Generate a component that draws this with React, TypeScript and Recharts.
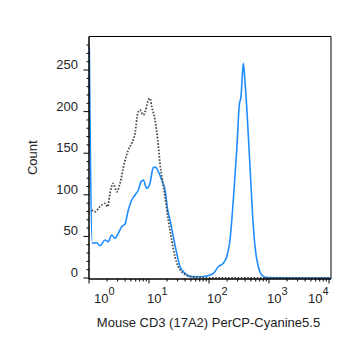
import React from 'react';
import { LineChart, Line, XAxis, YAxis, ReferenceLine, Label } from 'recharts';

// log10 of fluorescence intensity (decades) and event counts
const blueLogIntensity = [0.005, 0.055, 0.128, 0.183, 0.267, 0.322, 0.378, 0.433, 0.488, 0.545, 0.6, 0.655, 0.712, 0.767, 0.822, 0.867, 0.905, 0.962, 1.017, 1.072, 1.112, 1.155, 1.212, 1.267, 1.312, 1.35, 1.405, 1.462, 1.517, 1.6, 1.712, 1.85, 1.962, 2.072, 2.155, 2.238, 2.295, 2.35, 2.405, 2.462, 2.505, 2.533, 2.572, 2.6, 2.638, 2.683, 2.728, 2.767, 2.822, 2.878, 2.962, 3.517, 4.033];
const blueCounts = [278, 41.7, 42.4, 38.8, 45.7, 43.6, 51.7, 47.7, 53.7, 61.7, 64.9, 81.7, 93.8, 99.8, 105.8, 115.7, 117.8, 107.8, 113.8, 133, 133, 127.8, 117.8, 105.8, 81.7, 69.7, 49.6, 29.7, 13.6, 5.6, 1.6, 1.5, 2.5, 5.6, 13.6, 17.7, 25.6, 45.7, 93.8, 153.8, 208, 218, 258, 236, 194, 134, 73.7, 37.6, 13.6, 3.6, 0.4, 0, 0];

const grayLogIntensity = [0.045, 0.1, 0.183, 0.267, 0.312, 0.35, 0.405, 0.462, 0.517, 0.588, 0.655, 0.712, 0.767, 0.812, 0.85, 0.905, 0.945, 0.988, 1.017, 1.045, 1.1, 1.145, 1.183, 1.222, 1.267, 1.322, 1.378, 1.433, 1.488, 1.572, 1.712, 1.9, 2.2, 3.0, 4.033];
const grayCounts = [81.7, 79.7, 85.7, 89.8, 85.7, 101.8, 113.8, 103.7, 113.8, 137.9, 153.8, 161.9, 173.9, 198, 202, 196, 202, 214, 216, 206, 190, 166, 138, 118, 97.7, 69.7, 45.7, 25.6, 13.6, 5.6, 1.6, 0.5, 0, 0, 0];

const decadeTicks = [0, 1, 2, 3, 4];
const minorMultipliers = [2, 3, 4, 5, 6, 7, 8, 9];
const countTicks = [0, 50, 100, 150, 200, 250];
const minorCountStep = 10;
const minorCountMax = 280;

const X_MAX = 4.033;
const Y_MIN = -1.2;
const Y_MAX = 290.3;

const xTitle = 'Mouse CD3 (17A2) PerCP-Cyanine5.5';
const yTitle = 'Count';

const FONT = '"Liberation Sans", Arial, Helvetica, sans-serif';
const TEXT = '#222';

const blueData = blueLogIntensity.map((x, i) => ({ x, count: blueCounts[i] }));
const grayData = grayLogIntensity.map((x, i) => ({ x, count: grayCounts[i] }));

const minorXTicks: number[] = [];
for (const d of decadeTicks.slice(0, -1)) {
  for (const k of minorMultipliers) minorXTicks.push(d + Math.log10(k));
}
const xTicks = [...decadeTicks, ...minorXTicks].sort((a, b) => a - b);

const yTicks: number[] = [];
for (let v = 0; v <= minorCountMax; v += minorCountStep) yTicks.push(v);

function XTick(props: any) {
  const { x, y, payload } = props;
  const v = payload.value as number;
  const major = decadeTicks.includes(v);
  const len = major ? 4.5 : 2.5;
  let label = null;
  if (major) {
    let tx = x - 2;
    let anchor: 'start' | 'end' = 'start';
    if (v === decadeTicks[0]) tx = x + 5;
    if (v === decadeTicks[decadeTicks.length - 1]) {
      tx = x - 0.5;
      anchor = 'end';
    }
    label = (
      <text x={tx} y={y + 24} textAnchor={anchor} fontSize={13} fill={TEXT} fontFamily={FONT}>
        10
        <tspan dy={-8} fontSize={11}>{v}</tspan>
      </text>
    );
  }
  return (
    <g>
      <line x1={x} x2={x} y1={y} y2={y + len} stroke="#000" strokeWidth={1} />
      {label}
    </g>
  );
}

function YTick(props: any) {
  const { x, y, payload } = props;
  const v = payload.value as number;
  const major = countTicks.includes(v);
  const len = major ? 5.5 : 2.5;
  return (
    <g>
      <line x1={x} x2={x - len} y1={y} y2={y} stroke="#000" strokeWidth={1} />
      {major ? (
        <text x={x - 11} y={y - 1} textAnchor="end" fontSize={13} fill={TEXT} fontFamily={FONT}>
          {v}
        </text>
      ) : null}
    </g>
  );
}

function XTitle(props: any) {
  const vb = props.viewBox || { x: 0, y: 0, width: 0 };
  return (
    <text x={vb.x + vb.width / 2 - 1.5} y={vb.y + 47.5} textAnchor="middle" fontSize={13} fill={TEXT} fontFamily={FONT}>
      {xTitle}
    </text>
  );
}

function YTitle(props: any) {
  const vb = props.viewBox || { x: 0, y: 0, height: 0 };
  const cx = vb.x + 8;
  const cy = vb.y + vb.height / 2;
  return (
    <text x={cx} y={cy} transform={`rotate(-90, ${cx}, ${cy})`} textAnchor="middle" fontSize={13} fill={TEXT} fontFamily={FONT}>
      {yTitle}
    </text>
  );
}

export default function App() {
  return (
    <div style={{ width: 342, height: 337, fontFamily: FONT }}>
      <LineChart width={342} height={337} margin={{ top: 28.5, right: 19, bottom: 26, left: 21 }}>
        <XAxis
          dataKey="x"
          type="number"
          domain={[0, X_MAX]}
          ticks={xTicks}
          interval={0}
          tick={XTick}
          tickLine={false}
          tickSize={0}
          tickMargin={0}
          height={40}
          axisLine={{ stroke: '#000', strokeWidth: 1.5 }}
          allowDataOverflow
        >
          <Label content={XTitle} />
        </XAxis>
        <YAxis
          type="number"
          domain={[Y_MIN, Y_MAX]}
          ticks={yTicks}
          interval={0}
          tick={YTick}
          tickLine={false}
          tickSize={0}
          tickMargin={0}
          width={60}
          axisLine={{ stroke: '#000', strokeWidth: 1.5 }}
          allowDataOverflow
        >
          <Label content={YTitle} />
        </YAxis>
        <ReferenceLine y={Y_MAX} stroke="#000" strokeWidth={1} />
        <ReferenceLine x={X_MAX} stroke="#000" strokeWidth={1} />
        <Line
          data={blueData}
          dataKey="count"
          type="monotone"
          stroke="#1E8CFF"
          strokeWidth={1.6}
          dot={false}
          activeDot={false}
          isAnimationActive={false}
        />
        <Line
          data={grayData}
          dataKey="count"
          type="monotone"
          stroke="#4a4a4a"
          strokeWidth={1.8}
          strokeDasharray="1.6 1.6"
          dot={false}
          activeDot={false}
          isAnimationActive={false}
        />
      </LineChart>
    </div>
  );
}
